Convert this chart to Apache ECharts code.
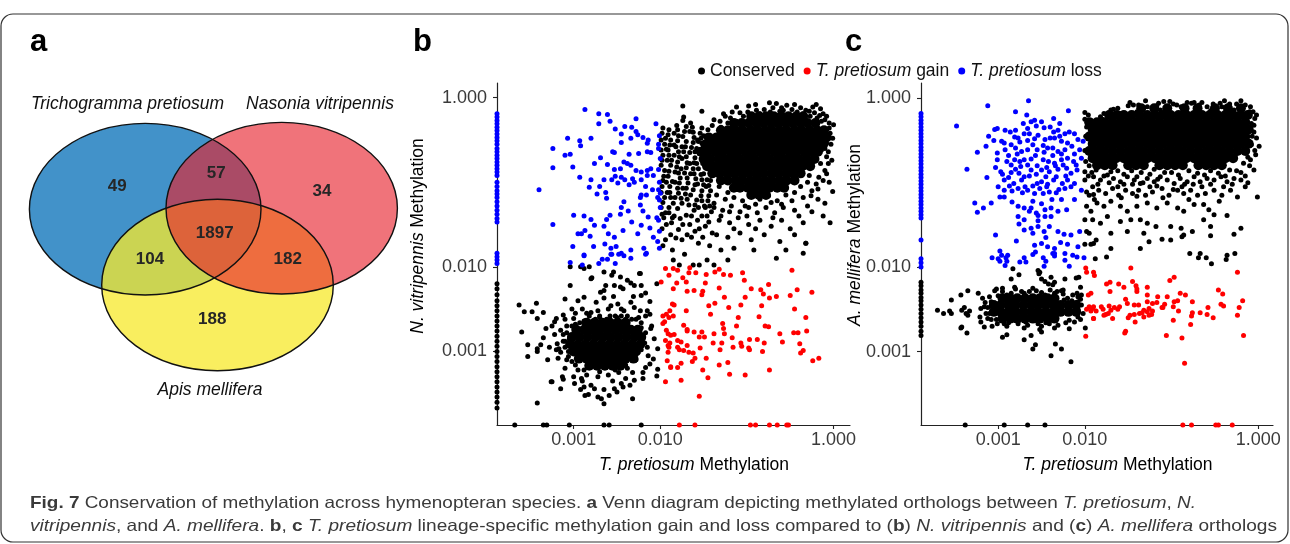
<!DOCTYPE html>
<html><head><meta charset="utf-8">
<script src="https://cdn.jsdelivr.net/npm/echarts@6/dist/echarts.min.js"></script>
<style>html,body{margin:0;padding:0;background:#fff}#c{width:1290px;height:544px}</style>
</head><body><div id="c"></div>
<script>
// ---------------- DATA ----------------
// Panel a: Venn diagram
const vennSets = ['Trichogramma pretiosum', 'Nasonia vitripennis', 'Apis mellifera'];
const vennRegions = ['Tp only', 'Tp & Nv', 'Nv only', 'Tp & Nv & Am', 'Tp & Am', 'Nv & Am', 'Am only'];
const vennCounts = [49, 57, 34, 1897, 104, 182, 188];

// Panels b, c: values are log10(methylation level). Tick labels:
const tickValues = [0.001, 0.010, 1.000];
const seriesNames = ['Conserved', 'T. pretiosum gain', 'T. pretiosum loss'];

// ---- panel b (T. pretiosum vs N. vitripennis) ----
// dense cores: rows of [log10 y, log10 x, log10 x, ...]
const bConservedCore = [
 [-0.22,-0.95,-0.86,-0.78,-0.69,-0.60,-0.52,-0.43,-0.35],
 [-0.30,-1.15,-1.06,-0.98,-0.89,-0.81,-0.72,-0.64,-0.55,-0.47,-0.38,-0.30,-0.21],
 [-0.385,-1.30,-1.22,-1.13,-1.05,-0.96,-0.88,-0.79,-0.71,-0.62,-0.54,-0.45,-0.37,-0.28,-0.19,-0.11],
 [-0.47,-1.44,-1.35,-1.26,-1.18,-1.09,-1.01,-0.92,-0.84,-0.75,-0.67,-0.58,-0.50,-0.41,-0.33,-0.24,-0.16,-0.08],
 [-0.555,-1.48,-1.40,-1.31,-1.23,-1.14,-1.06,-0.97,-0.89,-0.80,-0.72,-0.63,-0.55,-0.46,-0.38,-0.29,-0.20,-0.12],
 [-0.64,-1.53,-1.45,-1.36,-1.28,-1.19,-1.11,-1.02,-0.94,-0.85,-0.77,-0.68,-0.60,-0.51,-0.43,-0.34,-0.26,-0.18],
 [-0.725,-1.50,-1.42,-1.33,-1.25,-1.16,-1.08,-0.99,-0.91,-0.82,-0.74,-0.65,-0.57,-0.48,-0.40,-0.31,-0.22],
 [-0.81,-1.46,-1.38,-1.29,-1.21,-1.12,-1.04,-0.95,-0.87,-0.78,-0.70,-0.61,-0.53,-0.44,-0.36,-0.27],
 [-0.895,-1.40,-1.32,-1.23,-1.15,-1.06,-0.98,-0.89,-0.81,-0.72,-0.64,-0.55,-0.47,-0.38],
 [-0.98,-1.30,-1.22,-1.13,-1.05,-0.96,-0.88,-0.79,-0.71,-0.62,-0.54,-0.45],
 [-1.065,-1.15,-1.08,-0.99,-0.91,-0.82,-0.74,-0.65,-0.57],
 [-1.15,-0.95,-0.86,-0.78],
 [-2.66,-2.85,-2.76,-2.67,-2.58,-2.49,-2.40],
 [-2.745,-2.97,-2.88,-2.79,-2.70,-2.61,-2.52,-2.43,-2.34,-2.26],
 [-2.83,-3.02,-2.93,-2.84,-2.75,-2.66,-2.57,-2.48,-2.39,-2.30,-2.22],
 [-2.915,-3.04,-2.95,-2.86,-2.77,-2.68,-2.59,-2.50,-2.41,-2.32,-2.23],
 [-3.00,-3.00,-2.91,-2.82,-2.73,-2.64,-2.55,-2.46,-2.37,-2.28],
 [-3.085,-2.94,-2.85,-2.76,-2.67,-2.58,-2.49,-2.40,-2.31],
 [-3.17,-2.82,-2.73,-2.64,-2.55,-2.46]
];
// scattered points: flat [log10 x, log10 y, ...]
const bConservedPts = [
 -1.74,-0.10,-1.52,-0.16,-0.98,-0.10,-1.12,-0.11,-0.74,-0.06,-0.66,-0.07,-0.54,-0.09,-0.24,-0.11,-0.32,-0.15,-1.74,-0.27,-1.73,-0.23,-1.65,-0.30,-1.27,-0.19,-1.17,-0.17,-0.89,-0.15,-0.85,-0.19,-0.42,-0.17,-0.12,-0.19,-0.08,-0.22,-0.05,-0.30,0.00,-0.32,-0.60,-0.12,-0.45,-0.08,-0.20,-0.08,-0.90,-0.08,-0.15,-0.13,
 -1.19,-0.24,-1.12,-0.28,-1.04,-0.22,-0.96,-0.26,-0.89,-0.24,-0.81,-0.22,-0.73,-0.17,-0.65,-0.21,-0.58,-0.15,-0.50,-0.21,-0.42,-0.24,-0.35,-0.19,-0.27,-0.22,-0.19,-0.24,-0.14,-0.28,-1.31,-0.28,-1.38,-0.26,
 -0.15,-0.38,-0.12,-0.46,-0.08,-0.54,-0.14,-0.62,-0.08,-0.70,-0.15,-0.78,-0.10,-0.86,-0.17,-0.94,-0.04,-0.42,-0.06,-0.78,-0.01,-0.48,-0.01,-1.11,-0.04,-1.48,-0.32,-1.72,-0.35,-1.84,-0.66,-1.90,-0.92,-1.80,-0.10,-0.60,-0.20,-1.02,-0.28,-0.92,
 -1.25,-0.22,-1.08,-0.18,-0.99,-0.17,-0.80,-0.14,-0.70,-0.12,-0.62,-0.16,-0.48,-0.14,-0.38,-0.12,-0.28,-0.16,-0.22,-0.18,-0.16,-0.21,-0.10,-0.26,-0.05,-0.36,-0.03,-0.55,-0.06,-0.64,-0.02,-0.74,-0.08,-0.90,-0.12,-0.98,
 -0.18,-1.08,-0.26,-1.16,-0.35,-1.18,-0.48,-1.22,-0.60,-1.26,-0.72,-1.24,-0.90,-1.26,-1.02,-1.28,-1.22,-1.12,-1.32,-1.05,-1.42,-0.98,-1.50,-0.90,-1.58,-0.78,-1.60,-0.64,-1.56,-0.52,-1.50,-0.45,-1.40,-0.33,-1.30,-0.35,-1.22,-0.30,-1.18,-0.36,
 -1.98,-0.42,-1.95,-0.55,-1.97,-0.68,-1.99,-0.80,-1.96,-0.93,-1.98,-1.05,-1.95,-1.18,-1.99,-1.30,-1.96,-1.42,-1.98,-1.55,-1.94,-1.68,-1.97,-1.75,
 -1.90,-0.38,-1.88,-0.50,-1.91,-0.62,-1.87,-0.74,-1.90,-0.87,-1.86,-0.99,-1.89,-1.12,-1.85,-1.25,-1.90,-1.36,-1.87,-1.48,-1.88,-1.62,-1.86,-1.80,
 -1.81,-0.33,-1.79,-0.45,-1.82,-0.58,-1.78,-0.70,-1.81,-0.82,-1.77,-0.95,-1.80,-1.07,-1.76,-1.19,-1.80,-1.31,-1.77,-1.43,-1.79,-1.56,-1.75,-1.68,
 -1.72,-0.40,-1.70,-0.52,-1.73,-0.64,-1.69,-0.77,-1.72,-0.89,-1.68,-1.01,-1.71,-1.14,-1.67,-1.27,-1.70,-1.39,-1.66,-1.50,-1.69,-1.62,-1.72,-1.85,
 -1.63,-0.35,-1.61,-0.47,-1.64,-0.59,-1.60,-0.71,-1.62,-0.84,-1.59,-0.96,-1.62,-1.09,-1.58,-1.21,-1.61,-1.33,-1.57,-1.45,-1.60,-1.58,-1.56,-1.72,
 -1.54,-0.42,-1.52,-0.54,-1.55,-0.66,-1.51,-0.78,-1.53,-0.91,-1.50,-1.03,-1.53,-1.16,-1.49,-1.28,-1.52,-1.40,-1.48,-1.52,-1.51,-1.65,
 -1.45,-0.38,-1.43,-0.84,-1.46,-0.97,-1.42,-1.10,-1.45,-1.22,-1.41,-1.35,-1.44,-1.47,-1.40,-1.60,-1.43,-1.75,
 -1.94,-0.48,-1.92,-0.74,-1.93,-1.00,-1.84,-0.56,-1.83,-0.88,-1.74,-0.46,-1.75,-0.72,-1.74,-1.07,-1.66,-0.65,-1.65,-0.90,-1.57,-0.50,-1.56,-0.84,-1.48,-0.60,-1.47,-0.72,
 -1.97,-0.36,-1.93,-0.61,-1.95,-0.86,-1.92,-1.12,-1.94,-1.36,-1.93,-1.50,-1.84,-0.42,-1.84,-0.68,-1.83,-1.00,-1.83,-1.18,-1.84,-1.40,-1.82,-1.66,-1.75,-0.58,-1.76,-0.84,
 -1.75,-1.25,-1.74,-1.50,-1.66,-0.40,-1.66,-0.78,-1.65,-1.15,-1.64,-1.40,-1.64,-1.65,-1.58,-0.60,-1.57,-1.02,-1.56,-1.30,-1.55,-1.55,-1.47,-1.05,-1.48,-1.30,-1.46,-1.40,
 -1.99,-0.50,-1.99,-0.62,-1.98,-0.74,-1.97,-0.98,-1.99,-1.12,-1.97,-1.24,-1.98,-1.38,-1.91,-0.44,-1.89,-0.56,-1.90,-0.68,-1.88,-0.80,-1.91,-0.93,-1.89,-1.05,-1.88,-1.18,
 -1.90,-1.30,-1.86,-1.42,-1.80,-0.38,-1.80,-0.51,-1.79,-0.64,-1.80,-0.76,-1.79,-0.89,-1.78,-1.01,-1.79,-1.13,-1.70,-0.34,-1.71,-0.58,-1.70,-0.70,-1.70,-0.83,-1.69,-0.95,
 -1.70,-1.07,-1.69,-1.20,-1.62,-0.41,-1.62,-0.53,-1.61,-0.77,-1.61,-0.90,-1.60,-1.03,-1.60,-1.27,-1.52,-0.36,-1.53,-0.48,-1.52,-0.97,-1.52,-1.10,-1.52,-1.22,-1.44,-1.04,
 -1.44,-1.16,-1.43,-1.28,
 -1.38,-1.25,-1.30,-1.40,-1.20,-1.35,-1.15,-1.55,-1.00,-1.40,-0.90,-1.55,-0.70,-1.42,-0.40,-1.40,-0.25,-1.35,-0.10,-1.25,-0.05,-1.00,
 -1.35,-1.15,-1.25,-1.20,-1.15,-1.18,-1.05,-1.22,-0.95,-1.15,-0.85,-1.20,-0.75,-1.16,-0.65,-1.22,-0.55,-1.15,-0.45,-1.12,-0.38,-1.05,-0.30,-1.00,-0.25,-1.10,
 -1.38,-1.30,-1.28,-1.33,-1.18,-1.28,-1.08,-1.35,-0.98,-1.30,-0.88,-1.36,-0.78,-1.30,-0.68,-1.36,-0.58,-1.30,-0.45,-1.33,-0.30,-1.28,-0.18,-1.20,
 -1.32,-1.45,-1.20,-1.48,-1.10,-1.42,-0.98,-1.50,-0.85,-1.45,-0.72,-1.52,-0.60,-1.45,-0.50,-1.55,-0.35,-1.48,-0.12,-1.40,
 -1.35,-1.62,-1.22,-1.65,-1.08,-1.60,-0.95,-1.68,-0.80,-1.62,-0.62,-1.70,-0.45,-1.62,-0.32,-1.72,
 -1.30,-1.80,-1.15,-1.78,-0.55,-1.80,-1.62,-1.98,-1.55,-1.98,-1.46,-1.92,-1.38,-1.98,-1.22,-1.92,-1.85,-1.92,-1.78,-1.98,
 -3.63,-2.45,-3.43,-2.43,-3.57,-2.53,-3.48,-2.53,-3.42,-2.61,-3.35,-2.54,-3.60,-2.77,-3.53,-2.92,-3.53,-3.06,-3.42,-2.97,-3.42,-3.00,-3.38,-2.92,-3.35,-2.84,-3.32,-2.73,-3.30,-3.10,
 -3.20,-2.61,-3.22,-2.65,-3.19,-2.91,-3.17,-2.97,-3.15,-3.01,-3.12,-2.57,-3.10,-2.38,-3.04,-2.22,-3.02,-2.50,-3.00,-2.61,-2.99,-2.77,-2.97,-3.01,-2.96,-3.09,
 -3.26,-3.36,-3.13,-3.30,-3.15,-3.44,-2.99,-3.38,-2.91,-3.32,-2.88,-3.42,-2.87,-3.52,-2.83,-3.51,-2.76,-3.44,-2.72,-3.54,-2.68,-3.56,-2.65,-3.62,-2.59,-3.52,-2.53,-3.44,-2.43,-3.42,-2.32,-3.56,-3.42,-3.61,
 -2.88,-2.36,-2.88,-2.02,-2.82,-2.00,-2.80,-2.14,-2.69,-2.30,-2.65,-2.06,-2.56,-2.10,-2.53,-2.22,-2.46,-2.12,-2.43,-2.26,-2.34,-2.19,-2.30,-2.22,-2.24,-2.08,-2.22,-2.22,-2.22,-2.34,
 -2.23,-2.52,-2.17,-2.58,-2.12,-2.56,-2.11,-2.73,-2.07,-2.85,-2.03,-2.97,-2.08,-3.09,-2.03,-3.21,-2.04,-3.29,-2.17,-3.19,-2.20,-3.32,-2.30,-3.34,-2.40,-3.32,
 -2.74,-2.42,-2.65,-2.37,-2.57,-2.46,-2.49,-2.44,-2.42,-2.52,-2.34,-2.42,-2.90,-2.50,-2.80,-2.54,-2.95,-2.40,
 -3.12,-3.33,-3.25,-3.36,-3.04,-2.00,-2.92,-2.00,-2.79,-2.13,-2.63,-2.22,-2.54,-2.06,-2.23,-2.08,-2.46,-2.24,-2.31,-2.35,-2.12,-2.41,-2.54,-2.35,-2.04,-2.20,-2.17,-2.31,-2.38,-2.16,-2.65,-2.28,
 -3.08,-2.70,-3.05,-2.85,-3.06,-3.00,-3.02,-3.12,-2.95,-3.22,-2.85,-3.28,-2.72,-3.30,-2.60,-3.28,-2.48,-3.25,-2.38,-3.20,-2.28,-3.10,-2.22,-2.98,-2.20,-2.85,-2.22,-2.72,-2.28,-2.62,
 -2.38,-2.58,-2.50,-2.60,-2.62,-2.62,-2.75,-2.62,-2.88,-2.64,-2.98,-2.68,-3.12,-2.80,-3.10,-2.95,-2.90,-3.35,-2.55,-3.35,-2.32,-3.25,-2.25,-2.60,-2.45,-2.68,-2.15,-2.95,-2.14,-3.05,
 -3.25,-2.70,-3.22,-2.80,-3.28,-2.95,-3.18,-3.08,-3.10,-3.20,-3.00,-3.30,-2.80,-3.40,-2.65,-3.45,-2.45,-3.38,-2.35,-3.40,-2.20,-3.25,-2.12,-3.15,-2.10,-2.70,-2.15,-2.52,-2.30,-2.48,
 -2.45,-2.50,-2.60,-2.50,-2.72,-2.52,-2.85,-2.55,-2.98,-2.55,-3.10,-2.62,-3.15,-2.75,-3.12,-2.88,-3.20,-2.98,-3.08,-3.10,-2.92,-3.45,-2.50,-3.48,-2.40,-2.62,-2.52,-2.58,-2.70,-2.58,
 -3.08,-2.78,-3.10,-2.88,-3.06,-3.06,-2.98,-3.16,-2.88,-3.22,-2.70,-3.24,-2.52,-3.22,-2.40,-3.16,-2.30,-3.08,-2.18,-2.90,-2.17,-2.78,-2.22,-2.66,-2.33,-2.62,-2.45,-2.58,
 -2.58,-2.58,-2.70,-2.60,-2.82,-2.58,-2.93,-2.66,-3.02,-2.70
];
const bConservedZeroX = [-2.20,-2.26,-2.33,-2.40,-2.46,-2.52,-2.58,-2.64,-2.70,-2.76,-2.82,-2.88,-2.94,-3.00,-3.06,-3.12,-3.18,-3.24,-3.30,-3.36,-3.42,-3.48,-3.54,-3.60,-3.67]; // T. pretiosum = 0
const bConservedZeroY = [-3.68,-3.35,-3.31,-3.05,-2.65,-2.59,-2.22]; // N. vitripennis = 0
const bGainPts = [
 -1.85,-2.02,-1.80,-2.04,-1.66,-2.01,-1.59,-2.07,-1.67,-2.07,-1.47,-2.09,-1.37,-2.06,-1.32,-2.03,-1.27,-2.09,-1.19,-2.10,-1.05,-2.07,-1.03,-2.16,
 -1.74,-2.13,-1.81,-2.19,-1.70,-2.18,-1.48,-2.19,-1.69,-2.29,-1.61,-2.28,-1.51,-2.29,-1.52,-2.33,-1.32,-2.25,-1.85,-2.26,-1.26,-2.36,-0.95,-2.26,
 -0.84,-2.27,-0.75,-2.21,-0.81,-2.32,-0.74,-2.37,-0.66,-2.35,-0.50,-2.34,-0.42,-2.27,-0.48,-2.04,-0.25,-2.30,-1.02,-2.36,-1.37,-2.43,-1.44,-2.46,
 -1.21,-2.48,-1.07,-2.45,-0.83,-2.46,-1.84,-2.45,-1.89,-2.52,-1.85,-2.58,-1.70,-2.52,-1.42,-2.56,-1.10,-2.60,-0.86,-2.59,-0.45,-2.50,-0.32,-2.60,
 -1.73,-2.69,-1.69,-2.74,-1.69,-2.76,-1.28,-2.67,-1.27,-2.73,-1.26,-2.79,-1.12,-2.70,-0.79,-2.70,-0.75,-2.71,-1.61,-2.77,-1.52,-2.77,-1.84,-2.80,
 -1.55,-2.83,-1.49,-2.83,-1.38,-2.79,-1.17,-2.84,-0.97,-2.86,-0.88,-2.86,-0.62,-2.79,-0.46,-2.78,-0.41,-2.78,-0.31,-2.76,-1.80,-2.87,-1.76,-2.89,
 -1.89,-2.90,-1.39,-2.90,-1.29,-2.90,-1.07,-2.90,-0.80,-2.90,-0.59,-2.89,-0.39,-2.91,-1.80,-2.95,-1.78,-2.98,-1.73,-2.99,-1.69,-2.93,-1.67,-3.01,
 -1.54,-2.96,-1.31,-2.98,-1.16,-2.95,-1.06,-2.94,-0.98,-2.96,-0.97,-2.98,-0.82,-3.00,-0.35,-2.99,-0.38,-3.02,-1.62,-3.02,-1.60,-3.08,-1.63,-3.12,
 -1.47,-3.08,-1.76,-3.14,-1.88,-3.18,-1.80,-3.19,-1.32,-3.16,-1.22,-3.13,-0.24,-3.11,-0.17,-3.08,-1.51,-3.22,-0.74,-3.22,-1.76,-3.34,-1.45,-3.31,
 -1.20,-3.27,-1.02,-3.28,-1.55,-3.53,
 -1.94,-2.02,-1.90,-2.10,-1.99,-2.18,-1.86,-2.44,-1.97,-2.58,-1.93,-2.56,-1.90,-2.60,-1.95,-2.65,-1.97,-2.67,-1.93,-2.75,-1.91,-2.79,-1.88,-2.81,
 -1.94,-2.87,-1.91,-2.93,-1.90,-2.95,-1.91,-3.01,-1.92,-3.11,-1.88,-3.19,-1.94,-3.36
];
const bGainZeroY = [-1.78,-1.60,-0.96,-0.90,-0.74,-0.65,-0.54,-0.52]; // N. vitripennis = 0
const bLossPts = [
 -2.87,-0.14,-2.71,-0.19,-2.61,-0.20,-2.71,-0.31,-2.58,-0.28,-2.28,-0.25,-2.05,-0.31,-2.41,-0.34,-2.33,-0.35,-2.52,-0.37,-2.45,-0.43,-2.28,-0.40,
 -3.07,-0.48,-2.80,-0.48,-2.45,-0.53,-2.34,-0.48,-2.26,-0.44,-2.20,-0.47,-2.14,-0.50,-2.15,-0.54,-2.93,-0.51,-2.92,-0.57,-3.24,-0.60,-3.10,-0.68,
 -3.04,-0.67,-2.69,-0.71,-2.55,-0.64,-2.53,-0.65,-2.36,-0.67,-2.25,-0.66,-2.15,-0.64,-2.11,-0.65,-2.02,-0.60,-2.76,-0.78,-2.61,-0.79,-2.42,-0.76,
 -2.38,-0.78,-2.34,-0.80,-2.53,-0.85,-2.46,-0.84,-2.28,-0.86,-2.22,-0.88,-2.15,-0.86,-2.11,-0.84,-3.24,-0.83,-3.01,-0.82,-2.93,-0.94,-2.80,-0.97,
 -2.65,-0.97,-2.56,-0.97,-2.52,-0.93,-2.45,-0.94,-2.41,-0.97,-2.32,-0.96,-2.22,-0.97,-2.15,-0.92,-2.08,-0.92,-2.82,-1.06,-2.70,-1.05,-2.49,-1.01,
 -2.36,-1.03,-2.30,-1.00,-2.17,-1.05,-2.09,-1.09,-3.40,-1.09,-2.73,-1.14,-2.63,-1.12,-2.62,-1.19,-2.22,-1.15,-2.23,-1.18,-2.16,-1.15,-2.42,-1.23,
 -2.45,-1.30,-2.37,-1.34,-2.23,-1.27,-2.20,-1.34,-2.03,-1.18,-3.00,-1.39,-2.88,-1.40,-2.80,-1.44,-2.62,-1.44,-2.58,-1.39,-2.46,-1.38,-2.33,-1.47,
 -2.22,-1.51,-2.14,-1.41,-2.12,-1.54,-2.04,-1.42,-3.24,-1.50,-2.76,-1.51,-2.65,-1.52,-2.43,-1.57,-2.26,-1.61,-2.95,-1.61,-2.91,-1.61,-2.87,-1.57,
 -2.81,-1.64,-2.60,-1.61,-2.53,-1.65,-3.01,-1.76,-2.77,-1.76,-2.64,-1.73,-2.57,-1.78,-2.51,-1.76,-2.34,-1.80,-2.19,-1.78,-2.16,-1.84,-2.45,-1.84,
 -2.88,-1.86,-2.56,-1.85,-2.01,-1.78,-2.03,-1.70,-2.08,-1.65,-2.02,-1.09,-2.00,-1.13,-2.01,-1.21,
 -2.88,-1.87,-3.04,-1.95,-2.90,-1.98,-2.71,-1.96,-2.67,-1.91,-2.61,-1.91,-2.57,-1.85,-2.48,-1.85,-2.42,-1.87,-2.34,-1.90,-2.17,-1.85,-2.52,-1.96,
 -2.01,-0.45,-2.02,-0.55,-2.00,-0.72,-2.02,-0.85,-2.01,-1.00,-2.00,-1.30,-2.02,-1.45,-2.01,-1.58
];
const bLossZeroX = [-0.19,-0.23,-0.27,-0.31,-0.35,-0.39,-0.43,-0.47,-0.51,-0.55,-0.60,-0.64,-0.68,-0.72,-0.76,-0.80,-0.84,-0.88,-0.92,-1.00,-1.05,-1.10,-1.14,-1.18,-1.23,-1.28,-1.33,-1.38,-1.43,-1.47,-1.84,-1.88,-1.92,-1.96]; // T. pretiosum = 0

// ---- panel c (T. pretiosum vs A. mellifera) ----
const cConservedCore = [
 [-0.12,-1.35,-1.20,-1.05,-0.85,-0.70,-0.50,-0.35,-0.20],
 [-0.20,-1.72,-1.63,-1.55,-1.46,-1.37,-1.28,-1.19,-1.10,-1.01,-0.92,-0.83,-0.74,-0.65,-0.56,-0.47,-0.38,-0.29,-0.20,-0.12],
 [-0.285,-1.95,-1.86,-1.77,-1.68,-1.59,-1.50,-1.41,-1.32,-1.23,-1.14,-1.05,-0.96,-0.87,-0.78,-0.69,-0.60,-0.51,-0.42,-0.33,-0.24,-0.15],
 [-0.37,-1.91,-1.82,-1.73,-1.64,-1.55,-1.46,-1.37,-1.28,-1.19,-1.10,-1.01,-0.92,-0.83,-0.74,-0.65,-0.56,-0.47,-0.38,-0.29,-0.20,-0.11],
 [-0.455,-1.95,-1.86,-1.77,-1.68,-1.59,-1.50,-1.41,-1.32,-1.23,-1.14,-1.05,-0.96,-0.87,-0.78,-0.69,-0.60,-0.51,-0.42,-0.33,-0.24,-0.15],
 [-0.54,-1.91,-1.82,-1.73,-1.64,-1.55,-1.46,-1.37,-1.28,-1.19,-1.10,-1.01,-0.92,-0.83,-0.74,-0.65,-0.56,-0.47,-0.38,-0.29,-0.20,-0.11],
 [-0.625,-1.95,-1.86,-1.77,-1.68,-1.59,-1.50,-1.41,-1.32,-1.23,-1.14,-1.05,-0.96,-0.87,-0.78,-0.69,-0.60,-0.51,-0.42,-0.33,-0.24,-0.15],
 [-0.71,-1.91,-1.82,-1.73,-1.64,-1.55,-1.46,-1.37,-1.28,-1.19,-1.10,-1.01,-0.92,-0.83,-0.74,-0.65,-0.56,-0.47,-0.38,-0.29],
 [-0.795,-1.86,-1.77,-1.68,-1.50,-1.41,-1.32,-1.14,-1.05,-0.96,-0.87,-0.69,-0.60,-0.51,-0.42],
 [-2.37,-2.95,-2.86,-2.78,-2.69,-2.60,-2.52,-2.43,-2.35],
 [-2.45,-3.05,-2.97,-2.88,-2.80,-2.71,-2.62,-2.54,-2.45,-2.36,-2.28,-2.19,-2.10],
 [-2.53,-3.05,-2.97,-2.88,-2.80,-2.71,-2.62,-2.54,-2.45,-2.36,-2.28,-2.19,-2.10],
 [-2.61,-2.95,-2.86,-2.78,-2.69,-2.60,-2.52,-2.43,-2.35]
];
const cConservedPts = [
 -1.48,-0.05,-1.44,-0.08,-1.30,-0.03,-1.28,-0.10,-1.17,-0.09,-1.09,-0.04,-1.02,-0.04,-0.94,-0.08,-0.89,-0.10,-0.77,-0.06,-0.74,-0.05,-0.65,-0.05,
 -0.59,-0.10,-0.44,-0.06,-0.39,-0.03,-0.33,-0.07,-0.20,-0.03,-0.15,-0.08,-0.09,-0.10,-0.06,-0.16,-0.02,-0.20,-1.67,-0.13,-1.82,-0.22,-1.78,-0.18,
 -1.59,-0.18,-1.40,-0.16,-1.13,-0.14,-0.86,-0.16,-0.55,-0.15,-0.28,-0.14,
 -1.80,-0.25,-1.70,-0.14,-1.62,-0.12,-1.50,-0.09,-1.38,-0.08,-1.15,-0.06,-0.98,-0.07,-0.82,-0.05,-0.68,-0.08,-0.52,-0.07,-0.42,-0.10,-0.25,-0.07,-0.10,-0.16,-0.04,-0.24,
 -0.05,-0.32,-0.02,-0.47,0.01,-0.57,-0.03,-0.67,-0.09,-0.73,-0.05,-0.85,-0.01,-1.17,-0.17,-0.77,-0.20,-0.97,
 -1.90,-0.93,-1.82,-0.97,-1.74,-0.91,-1.67,-0.95,-1.59,-0.99,-1.51,-0.93,-1.43,-0.97,-1.36,-1.01,-1.28,-0.95,-1.20,-0.99,-1.13,-0.93,-1.05,-0.97,
 -0.97,-1.01,-0.90,-0.95,-0.82,-0.99,-0.74,-0.93,-0.67,-0.99,-0.59,-0.95,-0.51,-0.97,-0.43,-0.93,-0.36,-0.99,-0.28,-0.95,
 -1.84,-1.09,-1.76,-1.13,-1.68,-1.07,-1.61,-1.15,-1.53,-1.09,-1.45,-1.13,-1.38,-1.09,-1.30,-1.15,-1.22,-1.11,-1.11,-1.07,-1.03,-1.15,-0.93,-1.09,
 -0.86,-1.13,-0.78,-1.09,-0.70,-1.15,-0.61,-1.13,-0.51,-1.09,-0.42,-1.15,-0.32,-1.09,-0.24,-1.17,
 -1.86,-1.24,-1.78,-1.28,-1.70,-1.22,-1.59,-1.28,-1.51,-1.34,-1.40,-1.28,-1.28,-1.24,-1.17,-1.30,-1.05,-1.24,-0.93,-1.30,-0.86,-1.34,-0.74,-1.26,
 -0.63,-1.26,-0.57,-1.32,-0.51,-1.38,-0.36,-1.39,-0.63,-1.44,
 -1.74,-1.40,-1.82,-1.48,-1.59,-1.46,-1.47,-1.44,-1.36,-1.44,-1.28,-1.48,-1.18,-1.52,-1.01,-1.52,-0.89,-1.54,-0.76,-1.58,-0.88,-1.64,-1.32,-1.60,
 -1.51,-1.58,-1.70,-1.60,-0.55,-1.52,-0.20,-1.54,-0.28,-1.61,-0.55,-1.63,-1.01,-1.68,-1.11,-1.67,-0.86,-1.62,-1.36,-1.78,-1.70,-1.78,-0.67,-1.84,
 -0.36,-1.86,-1.26,-1.70,
 -2.00,-0.97,-1.91,-1.05,-1.98,-1.11,-1.95,-1.15,-1.89,-1.20,-1.98,-1.28,-1.93,-1.34,-2.00,-1.44,-1.91,-1.44,-1.95,-1.60,-2.00,-1.73,-1.93,-1.73,
 -1.87,-1.68,-2.00,-0.17,-1.96,-0.20,-1.93,-0.26,-1.89,-0.30,-1.98,-0.34,-2.00,-0.87,-1.96,-0.92,
 -0.79,-1.84,-0.69,-1.89,-0.60,-1.89,-0.54,-1.96,-0.37,-1.91,-0.27,-1.84,-1.90,-1.72,-1.98,-1.58,-1.88,-1.90,-1.75,-1.88,
 -1.95,-0.80,-1.87,-0.85,-1.80,-0.80,-1.62,-0.86,-1.35,-0.88,-1.20,-0.84,-1.00,-0.88,-0.80,-0.86,-0.55,-0.86,-0.33,-0.85,-0.20,-0.88,-0.12,-0.70,
 -0.08,-0.55,-0.05,-0.40,-1.85,-1.02,-1.55,-1.02,-1.25,-1.05,-0.98,-1.08,-0.65,-1.05,-0.40,-1.05,-0.15,-1.05,
 -1.92,-0.88,-1.78,-0.92,-1.70,-0.87,-1.55,-0.90,-1.46,-0.86,-1.40,-0.93,-1.25,-0.90,-1.16,-0.96,-1.08,-0.88,-0.92,-0.91,-0.85,-1.02,-0.70,-0.89,
 -0.62,-0.91,-0.46,-0.89,-0.38,-0.92,-0.25,-0.86,-0.15,-0.92,-1.72,-1.00,-1.62,-1.05,-1.45,-1.02,-1.33,-1.00,-1.17,-1.04,-0.88,-1.05,-0.75,-1.02,
 -0.55,-1.02,-0.30,-1.02,-1.90,-1.14,-1.58,-1.18,-1.40,-1.16,-1.10,-1.18,-0.80,-1.20,-0.45,-1.22,-0.12,-1.00,-0.08,-0.30,-0.04,-0.62,-0.07,-0.45,
 -0.10,-0.80,-2.00,-0.25,-1.99,-0.45,-2.00,-0.62,-1.99,-0.75,
 -3.70,-2.51,-3.63,-2.55,-3.54,-2.55,-3.56,-2.52,-3.54,-2.39,-3.43,-2.33,-3.35,-2.28,-3.42,-2.51,-3.39,-2.48,-3.37,-2.55,-3.33,-2.52,-3.35,-2.57,
 -3.42,-2.71,-3.43,-2.72,-3.36,-2.78,-3.23,-2.31,-3.18,-2.37,-3.16,-2.47,-3.20,-2.49,-3.21,-2.59,-3.20,-2.65,-3.16,-2.71,-3.14,-2.55,-3.12,-2.61,
 -3.08,-2.41,-3.04,-2.28,-3.02,-2.26,-3.00,-2.34,-3.07,-2.70,-3.01,-2.67,-2.95,-2.83,-2.90,-2.80,-2.85,-2.14,-2.81,-2.24,-2.76,-2.09,-2.70,-2.86,
 -2.62,-2.81,-2.60,-2.97,-2.57,-2.92,-2.52,-2.74,-2.50,-2.77,-2.54,-2.04,-2.53,-2.08,-2.50,-2.14,-2.46,-2.17,-2.42,-2.20,-2.39,-2.12,-2.35,-2.18,
 -2.32,-2.29,-2.39,-3.05,-2.34,-2.91,-2.27,-2.97,-2.23,-2.14,-2.16,-3.12,-2.18,-2.73,-2.24,-2.39,-2.20,-2.37,-2.14,-2.33,-2.09,-2.31,-2.04,-2.33,
 -2.05,-2.24,-2.07,-2.12,-1.995,-2.72,-2.12,-2.65,-2.08,-2.59,-2.04,-2.45,-2.12,-2.47,-3.06,-2.47,-2.93,-2.67,-2.77,-2.67,-2.66,-2.69,-2.54,-2.67,
 -2.41,-2.67,-2.31,-2.69,-2.18,-2.63,-2.95,-2.29,-2.85,-2.31,-2.73,-2.29,-2.64,-2.29,-2.56,-2.28,-2.46,-2.33,-2.35,-2.31,-2.27,-2.28,-2.98,-2.53,
 -2.08,-2.41,-2.83,-2.02,-2.52,-2.06,-2.37,-2.21,-2.10,-2.13,
 -3.15,-2.42,-3.10,-2.55,-3.12,-2.48,-2.08,-2.50,-2.02,-2.55,-2.05,-2.38,-2.15,-2.40,-2.90,-2.70,-2.70,-2.72,-2.50,-2.70,-2.35,-2.72,-2.80,-2.26,
 -2.60,-2.25,-2.40,-2.27,-2.25,-2.32,
 -3.10,-2.35,-3.08,-2.62,-2.95,-2.25,-2.05,-2.62,-2.08,-2.35,-2.22,-2.66,-2.45,-2.66,-2.68,-2.65,-2.88,-2.66,-3.02,-2.62,-2.25,-2.27,-2.50,-2.30,
 -2.70,-2.31,-2.90,-2.33
];
const cConservedZeroX = [-2.18,-2.22,-2.27,-2.31,-2.36,-2.40,-2.45,-2.50,-2.55,-2.60,-2.65,-2.70,-2.76,-2.81]; // T. pretiosum = 0
const cConservedZeroY = [-3.38,-2.93,-2.66,-2.46]; // A. mellifera = 0
const cGainPts = [
 -1.47,-2.01,-1.90,-2.06,-1.89,-2.10,-1.75,-2.20,-1.71,-2.18,-1.61,-2.20,-1.55,-2.24,-1.45,-2.17,-1.41,-2.22,-1.40,-2.26,-1.40,-2.29,-1.71,-2.29,
 -1.28,-2.24,-1.28,-2.33,-1.16,-2.35,-1.05,-2.35,-1.02,-2.16,-0.97,-2.12,-0.90,-2.31,-0.84,-2.33,-1.53,-2.38,-1.51,-2.43,-1.43,-2.45,-1.38,-2.45,
 -1.28,-2.41,-1.22,-2.43,-1.17,-2.42,-1.10,-2.48,-1.08,-2.44,-0.97,-2.41,-0.93,-2.40,-0.98,-2.47,-0.76,-2.41,-0.46,-2.27,-0.41,-2.32,-0.24,-2.06,
 -0.18,-2.40,-0.43,-2.44,-0.40,-2.46,-0.58,-2.48,-0.22,-2.48,-1.90,-2.47,-1.87,-2.52,-1.81,-2.47,-1.79,-2.50,-1.72,-2.46,-1.70,-2.51,-1.66,-2.48,
 -1.62,-2.50,-1.60,-2.47,-1.76,-2.56,-1.73,-2.55,-1.78,-2.57,-1.90,-2.61,-1.68,-2.61,-1.48,-2.57,-1.50,-2.60,-1.43,-2.56,-1.37,-2.55,-1.32,-2.51,
 -1.34,-2.54,-1.28,-2.53,-1.26,-2.49,-1.23,-2.56,-1.22,-2.52,-1.26,-2.57,-1.32,-2.59,-1.42,-2.65,-1.11,-2.48,-0.92,-2.52,-0.98,-2.63,-0.76,-2.54,
 -0.67,-2.54,-0.77,-2.58,-0.78,-2.68,-0.59,-2.56,-0.52,-2.60,-0.24,-2.57,-1.53,-2.76,-1.54,-2.78,-1.06,-2.81,-0.88,-2.84,-0.85,-3.14,-0.17,-2.81,
 -1.99,-2.01,-1.98,-2.06,-1.96,-2.33,-1.93,-2.31,-1.98,-2.50,-1.95,-2.47,-1.93,-2.52,-1.91,-2.49,-1.90,-2.61,-1.99,-2.82
];
const cGainZeroY = [-0.87,-0.77,-0.49,-0.46,-0.30]; // A. mellifera = 0
const cLossPts = [
 -3.12,-0.09,-2.65,-0.03,-2.80,-0.16,-2.19,-0.15,-3.48,-0.33,-2.67,-0.20,-2.36,-0.24,-3.04,-0.37,-3.01,-0.36,-2.92,-0.38,-2.86,-0.40,-2.71,-0.30,
 -2.62,-0.28,-2.58,-0.26,-2.50,-0.28,-2.40,-0.34,-2.29,-0.30,-2.31,-0.38,-2.23,-0.42,-2.18,-0.40,-2.12,-0.42,-3.11,-0.45,-3.05,-0.50,-2.96,-0.51,
 -2.93,-0.53,-2.81,-0.46,-2.77,-0.47,-2.70,-0.42,-2.64,-0.42,-2.54,-0.44,-2.46,-0.49,-2.35,-0.47,-2.27,-0.51,-2.20,-0.53,-2.08,-0.49,-2.02,-0.51,
 -3.24,-0.64,-3.14,-0.57,-3.01,-0.65,-2.92,-0.61,-2.80,-0.59,-2.73,-0.63,-2.66,-0.61,-2.60,-0.55,-2.55,-0.61,-2.43,-0.59,-2.37,-0.59,-2.31,-0.63,
 -2.23,-0.61,-2.15,-0.57,-2.06,-0.61,-3.01,-0.73,-2.90,-0.75,-2.81,-0.73,-2.75,-0.75,-2.70,-0.73,-2.62,-0.72,-2.48,-0.73,-2.42,-0.75,-2.35,-0.77,
 -2.27,-0.73,-2.20,-0.71,-2.13,-0.75,-2.04,-0.71,-3.36,-0.84,-3.03,-0.82,-2.97,-0.87,-2.80,-0.84,-2.76,-0.89,-2.70,-0.93,-2.62,-0.85,-2.50,-0.85,
 -2.41,-0.87,-2.31,-0.84,-2.21,-0.83,-2.16,-0.89,-2.09,-0.85,-3.13,-0.94,-2.88,-0.94,-2.93,-0.97,-2.82,-1.01,-2.73,-0.97,-2.69,-1.05,-2.60,-1.04,
 -2.55,-1.01,-2.50,-0.99,-2.43,-1.02,-2.36,-0.97,-2.26,-1.01,-2.20,-0.97,-2.12,-1.01,-3.00,-1.05,-2.93,-1.09,-2.87,-1.04,-2.77,-1.07,-2.66,-1.09,
 -2.58,-1.13,-2.48,-1.13,-2.41,-1.11,-2.33,-1.12,-2.23,-1.07,-2.16,-1.05,-2.04,-1.09,-3.27,-1.24,-3.17,-1.30,-3.24,-1.35,-3.08,-1.24,-2.98,-1.17,
 -2.93,-1.17,-2.84,-1.23,-2.77,-1.28,-2.70,-1.30,-2.62,-1.30,-2.56,-1.36,-2.46,-1.32,-2.39,-1.30,-2.27,-1.20,-2.12,-1.20,-2.77,-1.40,-2.70,-1.44,
 -2.64,-1.34,-2.54,-1.39,-2.46,-1.40,-2.39,-1.40,-2.31,-1.34,-2.21,-1.32,-3.03,-1.62,-2.76,-1.49,-2.70,-1.56,-2.62,-1.54,-2.54,-1.52,-2.47,-1.58,
 -2.41,-1.52,-2.31,-1.58,-2.24,-1.61,-2.16,-1.62,-2.06,-1.58,-2.58,-1.74,-2.50,-1.72,-2.43,-1.76,-2.35,-1.78,-2.28,-1.71,-2.20,-1.73,-2.08,-1.76,
 -2.98,-1.81,-2.89,-1.86,-2.57,-1.82,-2.35,-1.84,-2.23,-1.84,-2.79,-1.69,
 -3.07,-1.89,-3.00,-1.90,-2.96,-1.86,-2.91,-1.89,-2.98,-1.93,-2.92,-1.98,-2.90,-1.93,-2.75,-1.94,-2.70,-1.89,-2.68,-1.94,-2.60,-1.85,-2.48,-1.89,
 -2.47,-1.99,-2.45,-1.93,-2.37,-1.84,-2.35,-1.87,-2.23,-1.92,-2.18,-1.99,-2.14,-1.86,-2.09,-1.88,-2.01,-1.89,
 -2.85,-0.55,-2.75,-0.52,-2.66,-0.50,-2.58,-0.48,-2.48,-0.56,-2.40,-0.47,-2.29,-0.45,-2.88,-0.68,-2.78,-0.66,-2.57,-0.68,-2.47,-0.64,-2.37,-0.68,
 -2.27,-0.66,-2.12,-0.66,-2.85,-0.79,-2.74,-0.81,-2.66,-0.79,-2.55,-0.80,-2.44,-0.82,-2.34,-0.80,-2.25,-0.79,-2.10,-0.79,-2.95,-0.90,-2.85,-0.88,
 -2.64,-0.92,-2.56,-0.90,-2.45,-0.93,-2.33,-0.93,-2.22,-0.92,-2.84,-1.10,-2.72,-1.12,-2.52,-1.07,-2.44,-1.05,-2.30,-1.08,-2.60,-1.22,-2.50,-1.25,
 -2.38,-1.20,-2.54,-1.45,-2.60,-1.60,-2.45,-1.65,-2.66,-0.36,-2.47,-0.35,-2.36,-0.40,-2.56,-0.33,-2.80,-0.38
];
const cLossZeroX = [-0.18,-0.22,-0.26,-0.30,-0.34,-0.38,-0.42,-0.46,-0.50,-0.54,-0.58,-0.62,-0.66,-0.70,-0.74,-0.78,-0.82,-0.86,-0.90,-0.94,-0.98,-1.02,-1.06,-1.10,-1.14,-1.18,-1.22,-1.26,-1.30,-1.34,-1.38,-1.42,-1.68,-1.90,-1.95,-2.00]; // T. pretiosum = 0

// caption segments [style, text]
const captionLine1 = [['b','Fig. 7'],['n',' Conservation of methylation across hymenopteran species. '],['b','a'],['n',' Venn diagram depicting methylated orthologs between '],['i','T. pretiosum'],['n',', '],['i','N.']];
const captionLine2 = [['i','vitripennis'],['n',', and '],['i','A. mellifera'],['n','. '],['b','b'],['n',', '],['b','c'],['n',' '],['i','T. pretiosum'],['n',' lineage-specific methylation gain and loss compared to ('],['b','b'],['n',') '],['i','N. vitripennis'],['n',' and ('],['b','c'],['n',') '],['i','A. mellifera'],['n',' orthologs']];

// ---------------- BUILD ----------------
const FONT = '"Liberation Sans", Arial, sans-serif';
const EXT = [
  {xmin:-3.885, xmax:0.19, ymin:-3.87, ymax:0.173},
  {xmin:-3.89, xmax:0.17, ymin:-3.87, ymax:0.18}
];
function pairs(flat){const o=[];for(let i=0;i<flat.length;i+=2)o.push([flat[i],flat[i+1]]);return o;}
function rows(r){const o=[];r.forEach(row=>{for(let i=1;i<row.length;i++)o.push([row[i],row[0]]);});return o;}
function zeroX(list,e){return list.map(y=>[e.xmin,y]);}
function zeroY(list,e){return list.map(x=>[x,e.ymin]);}

const tickLogs = tickValues.map(v=>Math.log10(v));
function mkAxis(i,isX){const e=EXT[i];return {type:'value',gridIndex:i,min:isX?e.xmin:e.ymin,max:isX?e.xmax:e.ymax,
  axisLine:{show:true,onZero:false,lineStyle:{color:'#222',width:1.2}},
  axisTick:{show:true,customValues:tickLogs,length:4,lineStyle:{color:'#222',width:1.1}},
  axisLabel:{customValues:tickLogs,formatter:v=>Math.pow(10,v).toFixed(3),fontSize:18,color:'#3a3a3a',fontFamily:FONT,margin:isX?6:10},
  splitLine:{show:false}};}

const COL = {'Conserved':'#000000','T. pretiosum gain':'#ff0000','T. pretiosum loss':'#0000ff'};
function sc(name,i,data,size){return {type:'scatter',name,xAxisIndex:i,yAxisIndex:i,data,symbolSize:size,
  itemStyle:{color:COL[name],opacity:1},clip:false,silent:true,animation:false};}

const panels = [
 {core:bConservedCore,pts:bConservedPts,zx:bConservedZeroX,zy:bConservedZeroY,gain:bGainPts,gzy:bGainZeroY,loss:bLossPts,lzx:bLossZeroX},
 {core:cConservedCore,pts:cConservedPts,zx:cConservedZeroX,zy:cConservedZeroY,gain:cGainPts,gzy:cGainZeroY,loss:cLossPts,lzx:cLossZeroX}
];
const series=[];
panels.forEach((p,i)=>{
  const e=EXT[i];
  series.push(sc(seriesNames[0],i,rows(p.core),10));
  series.push(sc(seriesNames[0],i,pairs(p.pts).concat(zeroX(p.zx,e),zeroY(p.zy,e)),5));
  series.push(sc(seriesNames[1],i,pairs(p.gain).concat(zeroY(p.gzy,e)),5));
  series.push(sc(seriesNames[2],i,pairs(p.loss).concat(zeroX(p.lzx,e)),5));
});

// ---- graphics ----
const g=[];
g.push({type:'rect',shape:{x:1,y:14,width:1287,height:528,r:12},style:{fill:'none',stroke:'#333',lineWidth:1.2},z:1,silent:true});
[['a',30],['b',413],['c',845]].forEach(([t,x])=>g.push({type:'text',x:x,y:42,style:{text:t,font:'bold 31px '+FONT,fill:'#000',align:'left',verticalAlign:'middle'},z:10}));
const venGeom=[{cx:145.2,cy:209.2,rx:115.8,ry:85.8},{cx:281.7,cy:208.2,rx:115.7,ry:85.8},{cx:217.5,cy:285,rx:115.8,ry:85.7}];
const venFill=['rgb(66,146,201)','rgba(231,33,44,0.63)','rgba(247,233,45,0.76)'];
[0,2,1].forEach((k,j)=>g.push({type:'ellipse',shape:venGeom[k],style:{fill:venFill[k]},z:2+j,silent:true}));
venGeom.forEach(s=>g.push({type:'ellipse',shape:s,style:{fill:'none',stroke:'#111',lineWidth:1.4},z:6,silent:true}));
const venLabelPos=[[127.5,104],[320,104],[210,390]];
vennSets.forEach((t,k)=>g.push({type:'text',x:venLabelPos[k][0],y:venLabelPos[k][1],style:{text:t,font:'italic 17.5px '+FONT,fill:'#111',align:'center',verticalAlign:'middle'},z:10}));
const venCountPos=[[117.3,186.3],[216.3,173.3],[322,191.3],[214.7,233.3],[150,259.3],[287.7,259.3],[212.3,319.3]];
vennCounts.forEach((n,k)=>g.push({type:'text',x:venCountPos[k][0],y:venCountPos[k][1],style:{text:String(n),font:'bold 17px '+FONT,fill:'#262626',align:'center',verticalAlign:'middle'},z:10}));
const richI={i:{fontStyle:'italic',fontSize:17.5,fontFamily:FONT,fill:'#000'}};
function title(text,x,y,rot){g.push({type:'text',x,y,rotation:rot||0,style:{text,fontSize:17.5,fontFamily:FONT,fill:'#000',align:'center',verticalAlign:'middle',rich:richI},z:10});}
title('{i|T. pretiosum} Methylation',694,465.5);
title('{i|T. pretiosum} Methylation',1117.5,465.5);
title('{i|N. vitripennis} Methylation',418,236,Math.PI/2);
title('{i|A. mellifera} Methylation',855,235,Math.PI/2);
const CAP_SIZE=16.5;
const mctx=document.createElement('canvas').getContext('2d');
function segFont(s){return (s==='i'?'italic ':'')+(s==='b'?'bold ':'')+CAP_SIZE+'px '+FONT;}
function capLine(segs,y,target){
  let w=0; segs.forEach(([s,t])=>{mctx.font=segFont(s);w+=mctx.measureText(t).width;});
  const text=segs.map(([s,t])=>s==='n'?t:'{'+s+'|'+t+'}').join('');
  g.push({type:'text',x:30,y:y,scaleX:target/w,style:{text,fontSize:CAP_SIZE,fontFamily:FONT,fill:'#3a3a3a',align:'left',verticalAlign:'middle',
    rich:{b:{fontWeight:'bold',fontSize:CAP_SIZE,fontFamily:FONT,fill:'#3a3a3a'},i:{fontStyle:'italic',fontSize:CAP_SIZE,fontFamily:FONT,fill:'#3a3a3a'}}},z:10});
}
capLine(captionLine1,503,1166);
capLine(captionLine2,526,1247);

const chart=echarts.init(document.getElementById('c'),null,{renderer:'canvas'});
chart.setOption({
  animation:false,
  backgroundColor:'#fff',
  grid:[{left:497,top:83,width:353,height:342},{left:921,top:83,width:352,height:342}],
  xAxis:[mkAxis(0,true),mkAxis(1,true)],
  yAxis:[mkAxis(0,false),mkAxis(1,false)],
  legend:{left:693,top:57,icon:'circle',itemWidth:7,itemHeight:7,itemGap:9,selectedMode:false,data:seriesNames,
    formatter:n=>n.replace('T. pretiosum','{i|T. pretiosum}'),
    textStyle:{fontSize:17.5,fontFamily:FONT,color:'#111',rich:{i:{fontStyle:'italic',fontSize:17.5,fontFamily:FONT,color:'#111'}}}},
  series,
  graphic:{elements:g}
});
</script></body></html>
